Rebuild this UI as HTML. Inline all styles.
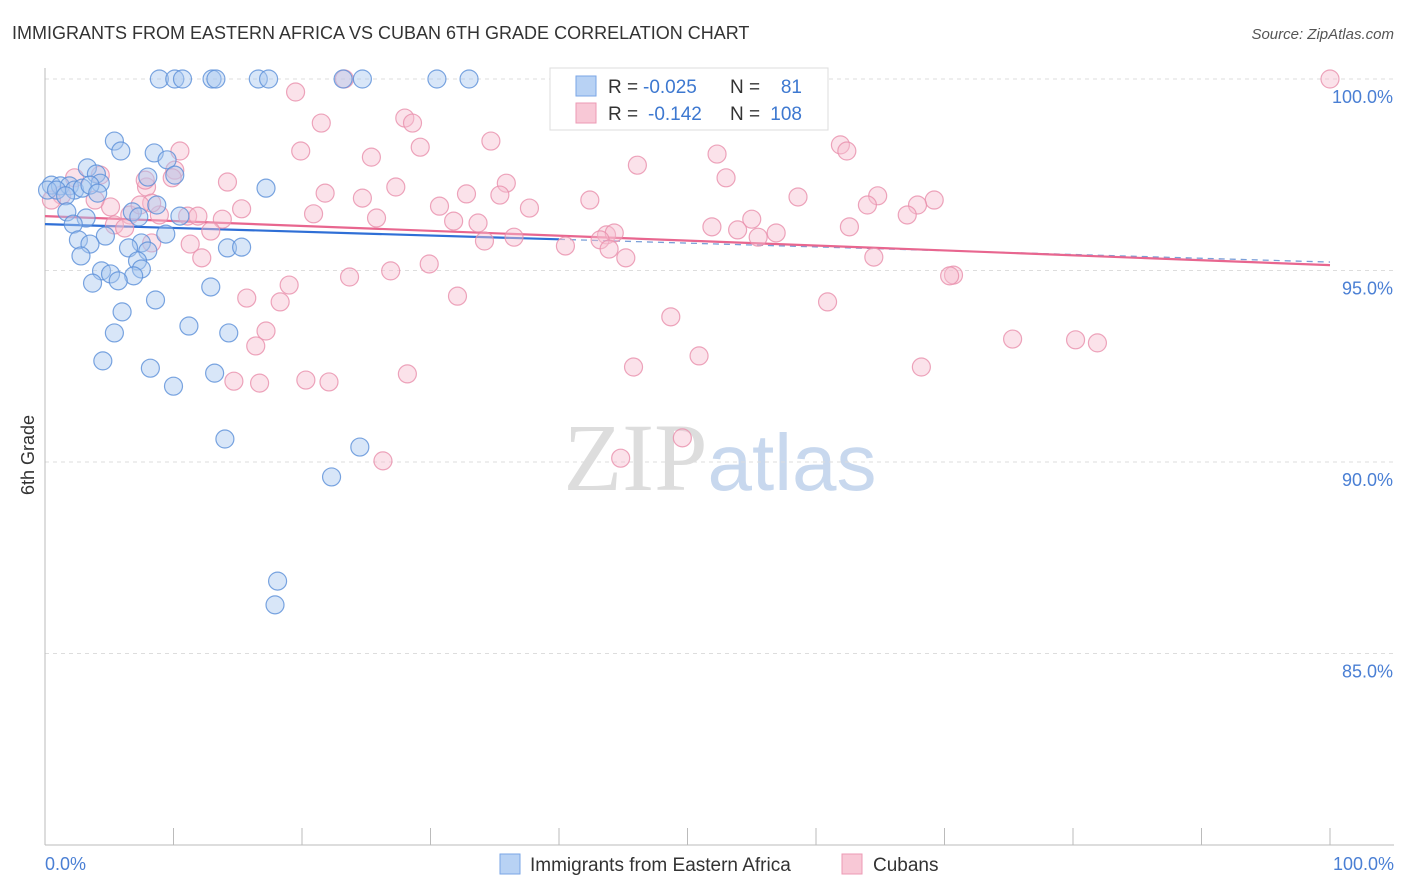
<!DOCTYPE html>
<html><head><meta charset="utf-8"><style>
body{margin:0;background:#fff;font-family:"Liberation Sans",sans-serif;}
svg{display:block}
</style></head><body>
<svg id="chart" width="1406" height="892" xmlns="http://www.w3.org/2000/svg">
<text x="12" y="39" font-size="18" fill="#333" font-family="Liberation Sans, sans-serif">IMMIGRANTS FROM EASTERN AFRICA VS CUBAN 6TH GRADE CORRELATION CHART</text>
<text x="1394" y="39" font-size="15" fill="#555" text-anchor="end" font-style="italic">Source: ZipAtlas.com</text>
<text x="720" y="490" font-size="96" text-anchor="middle" fill="#ddd" font-family="Liberation Serif, serif">ZIP<tspan fill="#c8d8ee" font-family="Liberation Sans, sans-serif" font-size="80">atlas</tspan></text>
<g id="grid"></g>
<g id="axes"></g>
<g id="trend"></g>
<g id="points"></g>
<text transform="translate(34,455) rotate(-90)" font-size="18" fill="#333" text-anchor="middle">6th Grade</text>
<text x="45" y="870" font-size="18" fill="#4a7fd4">0.0%</text>
<text x="1394" y="870" font-size="18" fill="#4a7fd4" text-anchor="end">100.0%</text>
<g>
<rect x="550" y="68" width="278" height="62" fill="#fff" stroke="#ddd"/>
<rect x="576" y="76" width="20" height="20" fill="#b8d2f4" stroke="#7aa6e6"/>
<rect x="576" y="103" width="20" height="20" fill="#f8c8d6" stroke="#ec9ab4"/>
<text x="608" y="93" font-size="19" fill="#333">R = </text><text x="643" y="93" font-size="19" fill="#3d78d0">-0.025</text>
<text x="730" y="93" font-size="19" fill="#333">N = </text><text x="802" y="93" font-size="19" fill="#3d78d0" text-anchor="end">81</text>
<text x="608" y="120" font-size="19" fill="#333">R = </text><text x="648" y="120" font-size="19" fill="#3d78d0">-0.142</text>
<text x="730" y="120" font-size="19" fill="#333">N = </text><text x="802" y="120" font-size="19" fill="#3d78d0" text-anchor="end">108</text>
</g>
<g>
<rect x="500" y="854" width="20" height="20" fill="#b8d2f4" stroke="#7aa6e6"/>
<text x="530" y="871" font-size="19" fill="#333">Immigrants from Eastern Africa</text>
<rect x="842" y="854" width="20" height="20" fill="#f8c8d6" stroke="#ec9ab4"/>
<text x="873" y="871" font-size="19" fill="#333">Cubans</text>
</g>
</svg>
<script>
const yTicks=[100,95,90,85];
const yTickLabels=["100.0%","95.0%","90.0%","85.0%"];
const xTicks=[0,10,20,30,40,50,60,70,80,90,100];
const blueX=[8.9,10.1,10.7,13.0,13.3,16.6,17.4,23.2,24.7,30.5,33.0,5.4,5.9,8.5,9.5,3.3,4.0,10.1,8.0,4.3,17.2,0.5,1.2,1.9,0.2,0.9,2.3,2.9,3.5,1.6,4.1,8.7,1.7,6.8,7.3,10.5,3.2,2.2,9.4,4.7,2.6,7.5,3.5,6.5,14.2,15.3,8.0,2.8,7.2,7.5,4.4,5.1,6.9,3.7,5.7,12.9,8.6,6.0,11.2,5.4,14.3,4.5,8.2,13.2,10.0,14.0,24.5,22.3,18.1,17.9];
const blueY=[100,100,100,100,100,100,100,100,100,100,100,98.38,98.12,98.07,97.89,97.68,97.52,97.49,97.44,97.28,97.15,97.23,97.21,97.21,97.10,97.10,97.10,97.15,97.23,96.95,97.02,96.71,96.53,96.53,96.40,96.42,96.37,96.21,95.95,95.90,95.80,95.72,95.69,95.59,95.59,95.61,95.51,95.38,95.25,95.04,94.99,94.91,94.86,94.67,94.73,94.57,94.23,93.92,93.55,93.37,93.37,92.64,92.45,92.32,91.98,90.60,90.39,89.61,86.89,86.27];
const pinkX=[100,23.3,19.5,21.5,28.0,28.6,34.7,10.5,19.9,29.2,25.4,46.1,52.3,61.9,62.4,10.1,14.2,27.3,35.9,21.8,32.8,53.0,7.9,58.6,64.8,69.2,67.9,24.7,42.4,37.7,35.4,15.3,20.9,30.7,64.0,67.1,11.1,11.9,13.8,25.8,31.8,33.7,62.6,51.9,53.9,55.0,55.5,56.9,12.9,43.7,44.3,43.2,36.5,34.2,40.5,11.3,8.3,43.9,45.2,12.2,64.5,29.9,26.9,23.7,70.7,70.4,19.0,15.7,18.3,32.1,60.9,48.7,17.2,16.4,50.9,75.3,80.2,81.9,68.2,45.8,28.2,14.7,16.7,20.3,22.1,49.6,26.3,44.8,4.3,2.3,6.6,5.4,6.2,1.3,0.5,5.1,3.9,7.8,8.9,9.9,8.3,7.4];
const pinkY=[100,100,99.66,98.85,98.98,98.85,98.38,98.12,98.12,98.22,97.96,97.75,98.04,98.28,98.12,97.62,97.31,97.18,97.28,97.02,97.00,97.42,97.18,96.92,96.95,96.84,96.71,96.89,96.84,96.63,96.97,96.61,96.48,96.68,96.71,96.45,96.42,96.42,96.34,96.37,96.29,96.24,96.14,96.14,96.06,96.34,95.87,95.98,96.03,95.93,95.98,95.80,95.87,95.77,95.64,95.69,95.72,95.56,95.33,95.33,95.35,95.17,94.99,94.83,94.88,94.86,94.62,94.28,94.18,94.33,94.18,93.79,93.42,93.03,92.77,93.21,93.19,93.11,92.48,92.48,92.30,92.11,92.06,92.14,92.09,90.63,90.03,90.10,97.49,97.42,96.45,96.19,96.11,96.97,96.84,96.66,96.84,97.36,96.45,97.42,96.76,96.71];
const blueTrend=[96.21,95.22];
const pinkTrend=[96.42,95.14];
const blueSolidEnd=40;
const NS="http://www.w3.org/2000/svg";
function xs(v){return 45+v*12.85;}
function ys(v){return 79+(100-v)*38.3;}
function mk(parent,tag,attrs){const e=document.createElementNS(NS,tag);for(const k in attrs)e.setAttribute(k,attrs[k]);document.getElementById(parent).appendChild(e);return e;}
yTicks.forEach((t,i)=>{
  const g=mk('grid','line',{x1:45,x2:1394,y1:ys(t),y2:ys(t),stroke:'#ddd','stroke-dasharray':'4,4'});
  
  
  const l=mk('grid','text',{x:1393,y:ys(t)+24,'font-size':18,fill:'#4a7fd4','text-anchor':'end'});
  l.textContent=yTickLabels[i];
  
  
});
const ya=mk('axes','line',{x1:45,x2:45,y1:68,y2:845,stroke:'#bbb'});


const xa=mk('axes','line',{x1:45,x2:1394,y1:845,y2:845,stroke:'#bbb'});


xTicks.forEach(t=>{
  const k=mk('axes','line',{x1:xs(t),x2:xs(t),y1:828,y2:845,stroke:'#bbb'});
  
  
});
function tl(tr,color,x0,x1,dash,name){
  const y0=tr[0]+(tr[1]-tr[0])*x0/100, y1=tr[0]+(tr[1]-tr[0])*x1/100;
  const a={x1:xs(x0),x2:xs(x1),y1:ys(y0),y2:ys(y1),stroke:color,'stroke-width':dash?1.3:2.2};
  if(dash)a['stroke-dasharray']='6,5';
  const e=mk('trend','line',a);
  
  
}
function dots(X,Y,fill,stroke,name){
  X.forEach((x,i)=>{
    const c=mk('points','circle',{cx:xs(x),cy:ys(Y[i]),r:9,fill:fill,'fill-opacity':0.45,stroke:stroke,'stroke-opacity':0.8,'stroke-width':1.2});
    
    
  });
}
dots(pinkX,pinkY,'#f7bfd0','#e88fab','cubans-point');
dots(blueX,blueY,'#a9c8f0','#5a8fd8','eastern-africa-point');
tl(blueTrend,'#2f6fd6',0,blueSolidEnd,false,'eastern-africa-trendline');
tl(blueTrend,'#7a9fd8',blueSolidEnd,100,true,'eastern-africa-trendline-extension');
tl(pinkTrend,'#e8668f',0,100,false,'cubans-trendline');
</script>
</body></html>
